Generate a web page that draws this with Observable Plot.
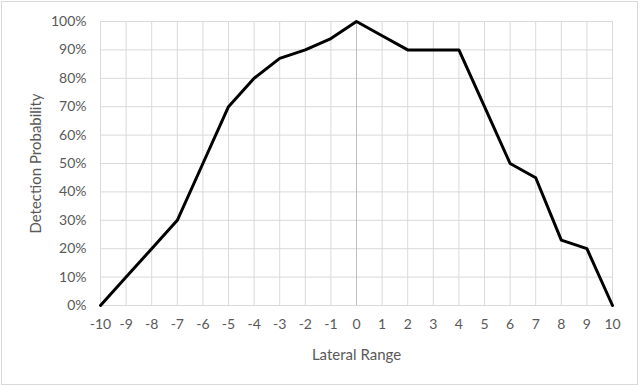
<!DOCTYPE html>
<html>
<head>
<meta charset="utf-8">
<script src="https://cdn.jsdelivr.net/npm/d3@7"></script>
<script src="https://cdn.jsdelivr.net/npm/@observablehq/plot@0.6"></script>
<style>
  body { margin: 0; background: #fff; }
  #wrap { position: relative; width: 640px; height: 385px; }
  #border { position: absolute; left: 1px; top: 1px; width: 635px; height: 382px; border: 1px solid #d9d9d9; pointer-events: none; }
  [aria-label="x-axis label"], [aria-label="y-axis label"] { font-size: 15px; }
</style>
</head>
<body>
<div id="wrap"><div id="border"></div></div>
<script>
const lateralRange = [-10,-9,-8,-7,-6,-5,-4,-3,-2,-1,0,1,2,3,4,5,6,7,8,9,10];
const detectionProbability = [0,0.10,0.20,0.30,0.50,0.70,0.80,0.87,0.90,0.94,1.00,0.95,0.90,0.90,0.90,0.70,0.50,0.45,0.23,0.20,0];
const yTicks = [0,0.1,0.2,0.3,0.4,0.5,0.6,0.7,0.8,0.9,1.0];

const data = lateralRange.map((x, i) => ({x, y: detectionProbability[i]}));

const chart = Plot.plot({
  width: 640,
  height: 385,
  marginLeft: 100,
  marginRight: 28,
  marginTop: 21,
  marginBottom: 80,
  style: {fontFamily: "Lato, 'Open Sans', sans-serif", fontSize: "14px", color: "#595959", background: "transparent"},
  x: {domain: [-10, 10], ticks: lateralRange, tickSize: 0, tickPadding: 14, tickFormat: d => String(d),
      label: "Lateral Range", labelAnchor: "center", labelOffset: 54, labelArrow: "none"},
  y: {domain: [0, 1], ticks: yTicks, tickSize: 0, tickPadding: 14, tickFormat: d3.format(".0%"),
      label: "Detection Probability", labelAnchor: "center", labelOffset: 70, labelArrow: "none"},
  marks: [
    Plot.ruleX(lateralRange, {stroke: "#d9d9d9", strokeWidth: 1}),
    Plot.ruleY(yTicks, {stroke: "#d9d9d9", strokeWidth: 1}),
    Plot.ruleX([0], {stroke: "#bfbfbf", strokeWidth: 1}),
    Plot.line(data, {x: "x", y: "y", stroke: "#000", strokeWidth: 3, strokeLinejoin: "round"})
  ]
});
chart.querySelectorAll("text").forEach(t => {
  if (t.children.length === 0) t.textContent = t.textContent.replace(/[−]/g, "-").replace(/\s*[→↑←↓]\s*/g, "");
  else t.querySelectorAll("tspan").forEach(s => s.textContent = s.textContent.replace(/[−]/g, "-").replace(/\s*[→↑←↓]\s*/g, ""));
});
document.getElementById("wrap").prepend(chart);
</script>
</body>
</html>
